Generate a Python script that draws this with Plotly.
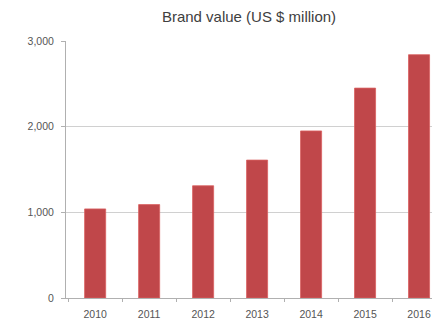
import plotly.graph_objects as go

years = ["2010", "2011", "2012", "2013", "2014", "2015", "2016"]
brand_value = [1040, 1090, 1310, 1610, 1950, 2450, 2840]
y_ticks = [0, 1000, 2000, 3000]
y_tick_labels = ["0", "1,000", "2,000", "3,000"]

fig = go.Figure(
    go.Bar(
        x=years,
        y=brand_value,
        marker=dict(color="#c0474a", line=dict(color="#d9605f", width=0.8)),
    )
)

fig.update_layout(
    width=432,
    height=326,
    margin=dict(l=66, r=0, t=41, b=28),
    paper_bgcolor="white",
    plot_bgcolor="white",
    bargap=0.61,
    showlegend=False,
    font=dict(family="Liberation Sans, Arial, sans-serif", color="#555555"),
    title=dict(
        text="Brand value (US $ million)",
        x=0.5,
        xref="paper",
        xanchor="center",
        y=1 - 17 / 326,
        yref="container",
        yanchor="middle",
        font=dict(size=15, color="#404040"),
    ),
)

fig.update_xaxes(
    type="category",
    range=[-0.54, 6.24],
    showgrid=False,
    showline=True,
    linecolor="#b0b0b0",
    linewidth=1,
    ticks="outside",
    tickson="boundaries",
    ticklen=3,
    tickcolor="#b0b0b0",
    tickfont=dict(size=10.5, color="#555555"),
    ticklabelstandoff=6,
)

fig.update_yaxes(
    range=[0, 3000],
    tickvals=y_ticks,
    ticktext=y_tick_labels,
    showgrid=True,
    gridcolor="#d0d0d0",
    gridwidth=1,
    showline=True,
    linecolor="#b0b0b0",
    linewidth=1,
    ticks="outside",
    ticklen=4,
    tickcolor="#b0b0b0",
    tickfont=dict(size=10.5, color="#555555"),
    ticklabelstandoff=5,
    zeroline=False,
)

fig.write_html("out.html")
